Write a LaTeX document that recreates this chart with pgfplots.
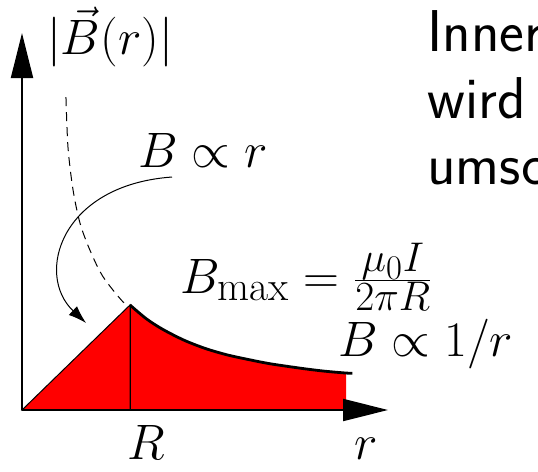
\documentclass[border=0pt]{standalone}
\usepackage{fontspec}
\usepackage{pgfplots}
\pgfplotsset{compat=1.18}
\usetikzlibrary{arrows.meta}

\begin{document}
\begin{tikzpicture}[every node/.style={inner sep=0pt, font=\fontsize{24.88}{33}\selectfont},
  side text/.style={anchor=base west, font=\sffamily\fontsize{29.5}{33}\selectfont}]
\begin{axis}[
  scale only axis, width=269pt, height=235.5pt,
  xmin=-0.2037, xmax=4.7778, ymin=-0.581, ymax=3.905,
  hide axis, clip=false]
% field inside the conductor: grows linearly up to B_max at r = R
\addplot[fill=red, draw=black, line width=0.5pt] coordinates {(0,0) (1,1) (1,0)} -- cycle;
% outside the conductor: falls off like 1/r
\addplot[fill=red, draw=none] coordinates {
  (1,0) (1,1) (1.15,0.87) (1.3,0.77) (1.5,0.665) (1.7,0.585) (1.9,0.525)
  (2.1,0.48) (2.3,0.44) (2.6,0.395) (2.8,0.37) (3.0,0.352) (3.0,0)} -- cycle;
\addplot[black, line width=1.4pt, smooth] coordinates {
  (1,1) (1.15,0.87) (1.3,0.77) (1.5,0.665) (1.7,0.585) (1.9,0.525)
  (2.1,0.48) (2.3,0.44) (2.6,0.395) (2.8,0.37) (3.0,0.352) (3.06,0.35)};
\addplot[black, line width=0.5pt] coordinates {(1,0) (1,1)};
% 1/r continued into the conductor (not realised)
\addplot[black, line width=0.5pt, dash pattern=on 4.5pt off 3pt, smooth] coordinates {
  (0.407,2.98) (0.426,2.50) (0.472,2.10) (0.537,1.78) (0.63,1.52)
  (0.75,1.27) (0.935,1.03) (1,1)};
% axes
\draw[line width=1pt, -{Triangle[length=22.5pt,width=11pt]}] (axis cs:0,0) -- (axis cs:0,3.59);
\draw[line width=1pt, -{Triangle[length=22.5pt,width=11pt]}] (axis cs:0,0) -- (axis cs:3.389,0);
% annotation arrow
\draw[line width=0.5pt, -{Latex[length=9pt,width=6pt]}] (axis cs:1.389,2.219)
  .. controls (axis cs:0.352,2.143) and (axis cs:0.12,1.286) .. (axis cs:0.593,0.829);
% labels
\node[anchor=center] at (axis cs:0.815,3.552) {$|\vec{B}(r)|$};
\node[anchor=base west] at (axis cs:1.074,2.314) {$B\propto r$};
\node[anchor=base west] at (axis cs:1.463,1.114) {$B_{\max}=\frac{\mu_0 I}{2\pi R}$};
\node[anchor=base west] at (axis cs:2.926,0.505) {$B\propto 1/r$};
\node[anchor=base] at (axis cs:1.148,-0.476) {$R$};
\node[anchor=base] at (axis cs:3.185,-0.476) {$r$};
\node[side text] at (axis cs:3.75,3.41) {Innerhalb des Leiters};
\node[side text] at (axis cs:3.75,2.781) {wird nur ein Teil des Stroms};
\node[side text] at (axis cs:3.75,2.143) {umschlossen};
\end{axis}
\pgfresetboundingbox
\path[use as bounding box] (current axis.south west) rectangle (current axis.north east);
\end{tikzpicture}
\end{document}
